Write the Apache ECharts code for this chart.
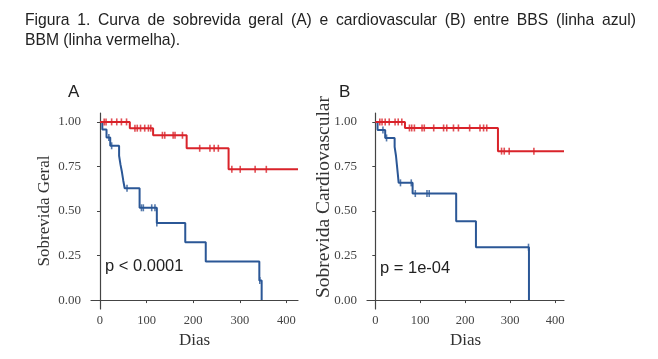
<!DOCTYPE html>
<html><head><meta charset="utf-8">
<script src="https://cdn.jsdelivr.net/npm/echarts@6/dist/echarts.min.js"></script>
<style>html,body{margin:0;padding:0;background:#fff}#c{width:658px;height:359px}</style>
</head><body><div id="c"></div>
<script>
// ---- Data ----
const xTicks = [0, 100, 200, 300, 400];
const yTicks = [0, 0.25, 0.5, 0.75, 1];

// Panel A: Sobrevida geral
const blueA_t = [0, 5, 14, 22, 41, 44, 47, 50, 53, 85, 122, 183, 227, 342, 347];
const blueA_s = [1, 0.957, 0.913, 0.866, 0.81, 0.76, 0.72, 0.67, 0.628, 0.518, 0.432, 0.324, 0.217, 0.11, 0];
const blueA_cens = [19, 25, 58, 89, 93, 111, 118, 122, 343];
const redA_t = [0, 64, 114, 186, 276];
const redA_s = [1, 0.965, 0.925, 0.852, 0.734];
const redA_end = 425;
const redA_cens = [9, 13, 25, 36, 46, 57, 75, 80, 87, 96, 104, 109, 134, 139, 157, 161, 177, 214, 236, 245, 254, 283, 301, 333, 357];

// Panel B: Sobrevida cardiovascular
const blueB_t = [0, 5, 22, 43, 46, 48, 50, 52, 83, 180, 224, 342];
const blueB_s = [1, 0.955, 0.91, 0.86, 0.81, 0.76, 0.71, 0.658, 0.598, 0.443, 0.297, 0];
const blueB_cens = [17, 25, 56, 80, 89, 115, 120, 341];
const redB_t = [0, 66, 273];
const redB_s = [1, 0.966, 0.836];
const redB_end = 420;
const redB_cens = [10, 15, 22, 31, 44, 51, 59, 76, 81, 87, 104, 109, 130, 152, 159, 174, 185, 210, 233, 241, 248, 281, 287, 298, 353];

const pTextA = 'p < 0.0001';
const pTextB = 'p = 1e-04';
const yNameA = 'Sobrevida Geral';
const yNameB = 'Sobrevida Cardiovascular';
const captionLine1 = 'Figura 1. Curva de sobrevida geral (A) e cardiovascular (B) entre BBS (linha azul)';
const captionLine2 = 'BBM (linha vermelha).';

// ---- Helpers ----
const BLUE = '#2b5796', RED = '#d9232a';
function stepData(t, s, end) {
  const d = t.map((v, i) => [v, s[i]]);
  if (end !== undefined) d.push([end, s[s.length - 1]]);
  return d;
}
function survAt(t, s, x) {
  let v = s[0];
  for (let i = 0; i < t.length; i++) if (t[i] <= x) v = s[i];
  return v;
}
function censData(t, s, c) { return c.map(x => [x, survAt(t, s, x)]); }

const serif = '"Liberation Serif", "DejaVu Serif", serif';
const sans = '"Liberation Sans", Arial, sans-serif';

function xAxis(idx, min, max) {
  return {
    type: 'value', gridIndex: idx, min: min, max: max,
    name: 'Dias', nameLocation: 'middle', nameGap: 18,
    nameTextStyle: { fontFamily: serif, fontSize: 17, color: '#333' },
    axisLine: { show: true, lineStyle: { color: '#444', width: 1.2 } },
    axisTick: { show: true, customValues: xTicks, length: 3, lineStyle: { color: '#444' } },
    axisLabel: { customValues: xTicks, fontFamily: serif, fontSize: 12.5, color: '#444', margin: 5 },
    splitLine: { show: false }
  };
}
function yAxis(idx, name) {
  return {
    type: 'value', gridIndex: idx, min: -0.05, max: 1.05,
    name: name, nameLocation: 'middle', nameGap: 38,
    nameTextStyle: { fontFamily: serif, fontSize: 17, color: '#333' },
    axisLine: { show: true, lineStyle: { color: '#444', width: 1.2 } },
    axisTick: { show: true, customValues: yTicks, length: 3, lineStyle: { color: '#444' } },
    axisLabel: { customValues: yTicks, fontFamily: serif, fontSize: 13, color: '#444', margin: 10,
      formatter: v => v.toFixed(2) },
    splitLine: { show: false }
  };
}
function lineSeries(idx, data, color) {
  return { type: 'line', xAxisIndex: idx, yAxisIndex: idx, step: 'end', data: data,
    showSymbol: false, symbol: 'none', lineStyle: { color: color, width: 2 }, animation: false, z: 2 };
}
function censSeries(idx, data, color) {
  return { type: 'scatter', xAxisIndex: idx, yAxisIndex: idx, data: data, symbol: 'rect',
    symbolSize: [1.6, 7], itemStyle: { color: color }, animation: false, z: 3 };
}

// justified caption words
function justify(text, x0, x1, font) {
  const ctx = document.createElement('canvas').getContext('2d');
  ctx.font = font;
  const words = text.split(' ');
  const w = words.map(s => ctx.measureText(s).width);
  const gap = (x1 - x0 - w.reduce((a, b) => a + b, 0)) / (words.length - 1);
  let x = x0; const out = [];
  words.forEach((s, i) => { out.push({ x: x, s: s }); x += w[i] + gap; });
  return out;
}
const capFont = '15.7px "Liberation Sans"';
const capEls = justify(captionLine1, 25, 636, capFont).map(o => ({
  type: 'text', x: o.x, y: 13, style: { text: o.s, font: capFont, fill: '#222', textVerticalAlign: 'top', verticalAlign: 'top' }
}));
capEls.push({ type: 'text', x: 25, y: 33, style: { text: captionLine2, font: capFont, fill: '#222', textVerticalAlign: 'top', verticalAlign: 'top' } });

function txt(x, y, s, size) {
  return { type: 'text', x: x, y: y, style: { text: s, font: size + 'px ' + sans, fill: '#222',
    textVerticalAlign: 'middle', verticalAlign: 'middle' } };
}

const chart = echarts.init(document.getElementById('c'), null, { renderer: 'canvas' });
chart.setOption({
  animation: false,
  backgroundColor: '#fff',
  grid: [
    { left: 91, top: 113, width: 207, height: 196 },
    { left: 367, top: 113, width: 197, height: 196 }
  ],
  xAxis: [xAxis(0, -19.3, 425), xAxis(1, -18.5, 420)],
  yAxis: [yAxis(0, yNameA), Object.assign(yAxis(1, ''), { name: '' })],
  series: [
    lineSeries(0, stepData(blueA_t, blueA_s), BLUE),
    lineSeries(0, stepData(redA_t, redA_s, redA_end), RED),
    censSeries(0, censData(blueA_t, blueA_s, blueA_cens), BLUE),
    censSeries(0, censData(redA_t, redA_s, redA_cens), RED),
    lineSeries(1, stepData(blueB_t, blueB_s), BLUE),
    lineSeries(1, stepData(redB_t, redB_s, redB_end), RED),
    censSeries(1, censData(blueB_t, blueB_s, blueB_cens), BLUE),
    censSeries(1, censData(redB_t, redB_s, redB_cens), RED)
  ],
  graphic: capEls.concat([
    txt(68, 92, 'A', 17),
    txt(339, 92, 'B', 17),
    txt(105, 266, pTextA, 16.5),
    txt(380, 268, pTextB, 16.5),
    { type: 'text', x: 324, y: 197, rotation: Math.PI / 2,
      style: { text: yNameB, font: '19.5px ' + serif, fill: '#333',
        textAlign: 'center', align: 'center', textVerticalAlign: 'middle', verticalAlign: 'middle' } }
  ])
});
</script>
</body></html>
